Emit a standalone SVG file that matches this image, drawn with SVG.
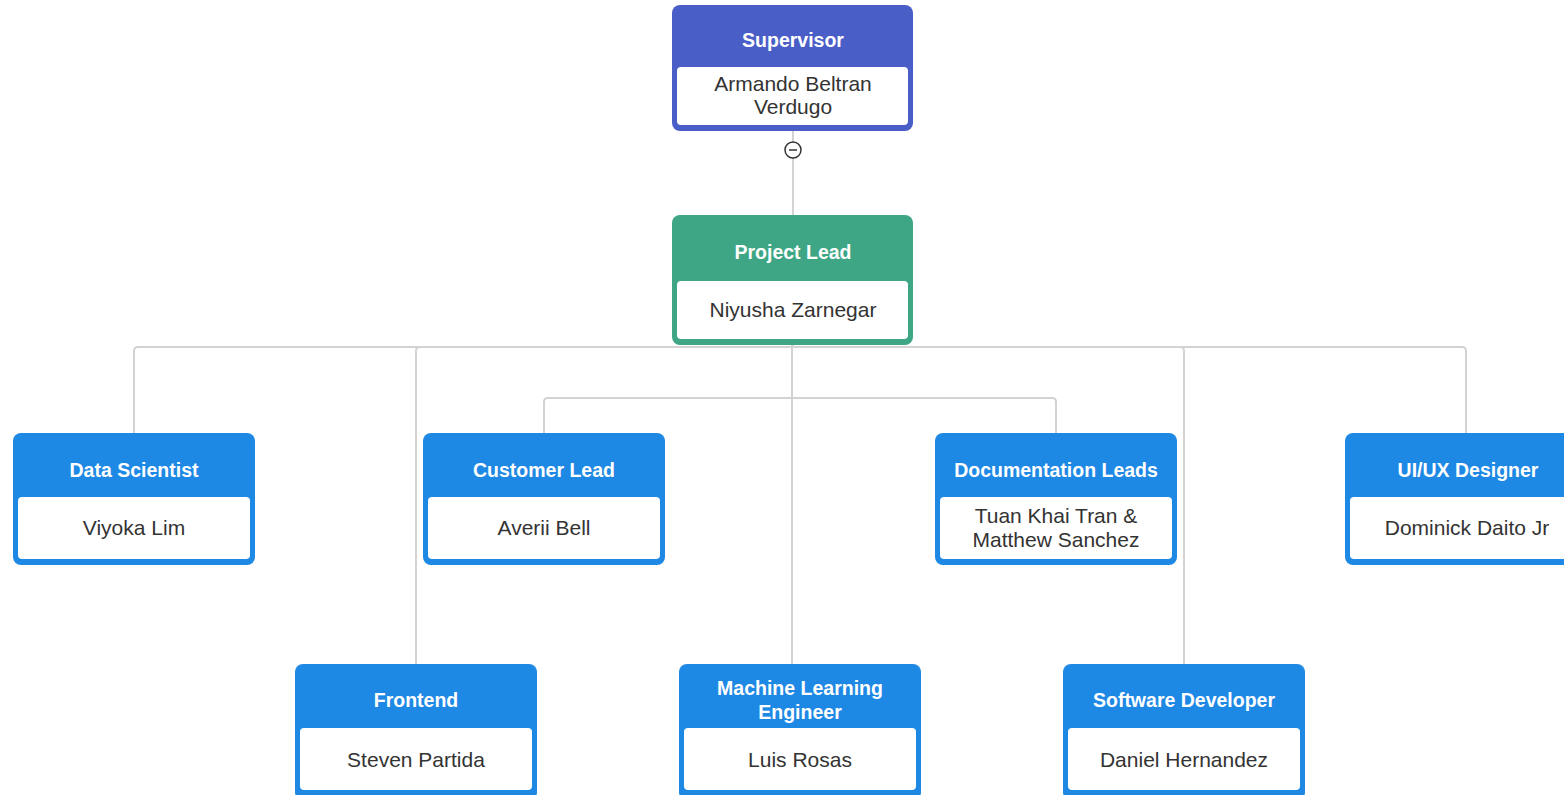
<svg xmlns="http://www.w3.org/2000/svg" width="1564" height="795" viewBox="0 0 1564 795">
<style>
.conn{fill:none;stroke:#d3d3d3;stroke-width:2}
.body{fill:#fff}
.h{font-family:"Liberation Sans",Arial,sans-serif;font-size:19.5px;font-weight:bold;fill:#fff;text-anchor:middle}
.t{font-family:"Liberation Sans",Arial,sans-serif;font-size:21px;fill:#333;text-anchor:middle}
.blue{fill:#1e88e5}
</style>
<rect width="1564" height="795" fill="#fff"/>
<g id="connectors">
<path class="conn" d="M793 131V142M793 158V215"/>
<path class="conn" d="M793 345V347H138Q134 347 134 351V433"/>
<path class="conn" d="M793 347H420Q416 347 416 351V664"/>
<path class="conn" d="M792 345V664"/>
<path class="conn" d="M793 347H1180Q1184 347 1184 351V664"/>
<path class="conn" d="M793 347H1462Q1466 347 1466 351V433"/>
<path class="conn" d="M792 398H548Q544 398 544 402V433"/>
<path class="conn" d="M792 398H1052Q1056 398 1056 402V433"/>
</g>
<g id="collapse">
<circle cx="793" cy="150" r="8" fill="#fff" stroke="#333" stroke-width="1.5"/>
<line x1="789" y1="150" x2="797" y2="150" stroke="#333" stroke-width="1.5"/>
</g>
<g id="supervisor">
<rect x="672" y="5" width="241" height="126" rx="8" fill="#4a5ec8"/>
<rect class="body" x="677" y="67" width="231" height="58" rx="4"/>
<text class="h" x="793" y="47">Supervisor</text>
<text class="t" x="793" y="91">Armando Beltran</text>
<text class="t" x="793" y="114">Verdugo</text>
</g>
<g id="project-lead">
<rect x="672" y="215" width="241" height="130" rx="8" fill="#3ea684"/>
<rect class="body" x="677" y="281" width="231" height="58" rx="4"/>
<text class="h" x="793" y="259">Project Lead</text>
<text class="t" x="793" y="317">Niyusha Zarnegar</text>
</g>
<g id="data-scientist">
<rect class="blue" x="13" y="433" width="242" height="132" rx="8"/>
<rect class="body" x="18" y="497" width="232" height="62" rx="4"/>
<text class="h" x="134" y="477">Data Scientist</text>
<text class="t" x="134" y="535">Viyoka Lim</text>
</g>
<g id="customer-lead">
<rect class="blue" x="423" y="433" width="242" height="132" rx="8"/>
<rect class="body" x="428" y="497" width="232" height="62" rx="4"/>
<text class="h" x="544" y="477">Customer Lead</text>
<text class="t" x="544" y="535">Averii Bell</text>
</g>
<g id="documentation-leads">
<rect class="blue" x="935" y="433" width="242" height="132" rx="8"/>
<rect class="body" x="940" y="497" width="232" height="62" rx="4"/>
<text class="h" x="1056" y="477">Documentation Leads</text>
<text class="t" x="1056" y="523">Tuan Khai Tran &amp;</text>
<text class="t" x="1056" y="547">Matthew Sanchez</text>
</g>
<g id="uiux-designer">
<rect class="blue" x="1345" y="433" width="242" height="132" rx="8"/>
<rect class="body" x="1350" y="497" width="232" height="62" rx="4"/>
<text class="h" x="1468" y="477">UI/UX Designer</text>
<text class="t" x="1467" y="535">Dominick Daito Jr</text>
</g>
<g id="frontend">
<rect class="blue" x="295" y="664" width="242" height="136" rx="8"/>
<rect class="body" x="300" y="728" width="232" height="62" rx="4"/>
<text class="h" x="416" y="707">Frontend</text>
<text class="t" x="416" y="767">Steven Partida</text>
</g>
<g id="ml-engineer">
<rect class="blue" x="679" y="664" width="242" height="136" rx="8"/>
<rect class="body" x="684" y="728" width="232" height="62" rx="4"/>
<text class="h" x="800" y="695">Machine Learning</text>
<text class="h" x="800" y="719">Engineer</text>
<text class="t" x="800" y="767">Luis Rosas</text>
</g>
<g id="software-developer">
<rect class="blue" x="1063" y="664" width="242" height="136" rx="8"/>
<rect class="body" x="1068" y="728" width="232" height="62" rx="4"/>
<text class="h" x="1184" y="707">Software Developer</text>
<text class="t" x="1184" y="767">Daniel Hernandez</text>
</g>
</svg>
